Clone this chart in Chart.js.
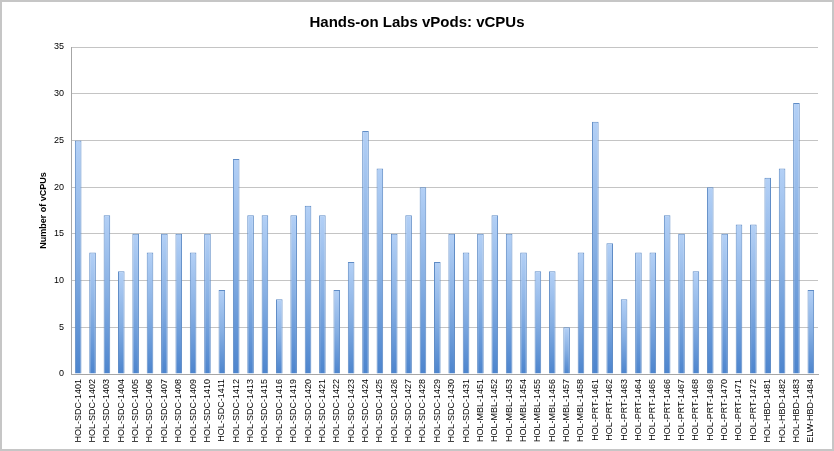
<!DOCTYPE html>
<html>
<head>
<meta charset="utf-8">
<script src="https://cdn.jsdelivr.net/npm/chart.js@4/dist/chart.umd.min.js"></script>
<style>
  html, body { margin: 0; padding: 0; background: #ffffff; }
  #wrap { width: 834px; height: 451px; box-sizing: border-box; border: 2px solid #c6c6c6; position: relative; background: #fff; }
  #c { display: block; }
</style>
</head>
<body>
<div id="wrap"><canvas id="c" width="830" height="447"></canvas></div>
<script>
const categories = [
  "HOL-SDC-1401","HOL-SDC-1402","HOL-SDC-1403","HOL-SDC-1404","HOL-SDC-1405","HOL-SDC-1406",
  "HOL-SDC-1407","HOL-SDC-1408","HOL-SDC-1409","HOL-SDC-1410","HOL-SDC-1411","HOL-SDC-1412",
  "HOL-SDC-1413","HOL-SDC-1415","HOL-SDC-1416","HOL-SDC-1419","HOL-SDC-1420","HOL-SDC-1421",
  "HOL-SDC-1422","HOL-SDC-1423","HOL-SDC-1424","HOL-SDC-1425","HOL-SDC-1426","HOL-SDC-1427",
  "HOL-SDC-1428","HOL-SDC-1429","HOL-SDC-1430","HOL-SDC-1431",
  "HOL-MBL-1451","HOL-MBL-1452","HOL-MBL-1453","HOL-MBL-1454","HOL-MBL-1455","HOL-MBL-1456",
  "HOL-MBL-1457","HOL-MBL-1458",
  "HOL-PRT-1461","HOL-PRT-1462","HOL-PRT-1463","HOL-PRT-1464","HOL-PRT-1465","HOL-PRT-1466",
  "HOL-PRT-1467","HOL-PRT-1468","HOL-PRT-1469","HOL-PRT-1470","HOL-PRT-1471","HOL-PRT-1472",
  "HOL-HBD-1481","HOL-HBD-1482","HOL-HBD-1483","ELW-HBD-1484"
];
const vcpus = [
  25,13,17,11,15,13,
  15,15,13,15,9,23,
  17,17,8,17,18,17,
  9,12,26,22,15,17,
  20,12,15,13,
  15,17,15,13,11,11,
  5,13,
  27,14,8,13,13,17,
  15,11,20,15,16,16,
  21,22,29,9
];
const yTicks = [0,5,10,15,20,25,30,35];
const chartTitle = "Hands-on Labs vPods: vCPUs";
const yTitle = "Number of vCPUs";

function barGradient(ctx) {
  const chart = ctx.chart;
  const area = chart.chartArea;
  if (!area || ctx.type !== 'data') return '#7aa6dc';
  const ys = chart.scales.y;
  const top = ys.getPixelForValue(ctx.raw);
  const bottom = ys.getPixelForValue(0);
  const g = chart.ctx.createLinearGradient(0, top, 0, bottom);
  g.addColorStop(0, '#b3d0f6');
  g.addColorStop(0.5, '#86afe3');
  g.addColorStop(1, '#4c84cd');
  return g;
}

new Chart(document.getElementById('c'), {
  type: 'bar',
  data: {
    labels: categories,
    datasets: [{
      label: 'vCPUs',
      data: vcpus,
      backgroundColor: barGradient,
      borderColor: '#5f8cc6',
      borderWidth: 1,
      barPercentage: 0.46,
      categoryPercentage: 1.0
    }]
  },
  options: {
    responsive: false,
    animation: false,
    devicePixelRatio: 1,
    layout: { padding: { left: 14, right: 14, top: 0, bottom: 0 } },
    plugins: {
      legend: { display: false },
      tooltip: { enabled: false },
      title: {
        display: true,
        text: chartTitle,
        color: '#000',
        font: { family: 'Liberation Sans', size: 15, weight: 'bold', lineHeight: 1.2 },
        padding: { top: 12, bottom: 15 }
      }
    },
    scales: {
      x: {
        grid: { display: false, drawTicks: false },
        border: { display: true, color: '#a6a6a6', width: 1 },
        ticks: {
          autoSkip: false,
          minRotation: 90,
          maxRotation: 90,
          color: '#000',
          padding: 5,
          font: { family: 'Liberation Sans', size: 9 }
        },
        afterFit: s => { s.height = 75; }
      },
      y: {
        min: 0,
        max: 35,
        afterBuildTicks: s => { s.ticks = yTicks.map(v => ({ value: v })); },
        grid: { color: '#c4c4c4', lineWidth: 1, drawTicks: false },
        border: { display: true, color: '#a6a6a6', width: 1 },
        ticks: {
          color: '#000',
          padding: 7,
          font: { family: 'Liberation Sans', size: 9 }
        },
        title: {
          display: true,
          text: yTitle,
          color: '#000',
          font: { family: 'Liberation Sans', size: 9, weight: 'bold' },
          padding: { top: 22, bottom: 6 }
        },
        afterFit: s => { s.width = 55; }
      }
    }
  }
});
</script>
</body>
</html>
